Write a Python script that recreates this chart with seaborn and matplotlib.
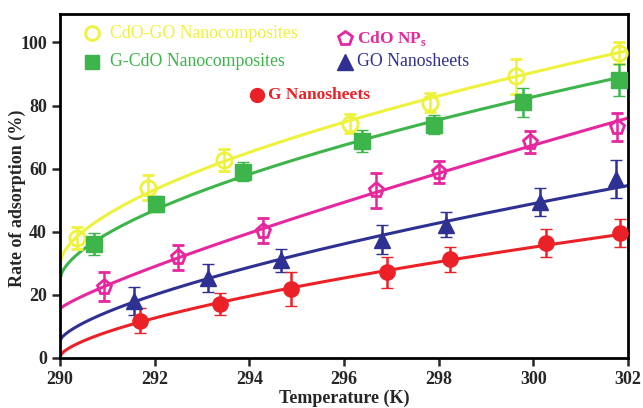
import numpy as np
import pandas as pd
import matplotlib
matplotlib.use("Agg")
import matplotlib.pyplot as plt
import seaborn as sns

# ---------------- data ----------------
series_names = ["CdO-GO Nanocomposites", "G-CdO Nanocomposites", "CdO NPs",
                "GO Nanosheets", "G Nanosheets"]

x_cdogo = [290.35, 291.85, 293.47, 296.12, 297.82, 299.63, 301.82]
y_cdogo = [38.0, 54.0, 62.8, 74.2, 80.9, 89.2, 96.7]
e_cdogo = [3.5, 4.0, 3.5, 3.0, 3.0, 5.5, 3.5]

x_gcdo = [290.72, 292.03, 293.86, 296.39, 297.90, 299.79, 301.81]
y_gcdo = [36.1, 48.9, 59.0, 68.8, 73.9, 81.0, 88.0]
e_gcdo = [3.5, 2.5, 3.0, 3.5, 3.0, 4.5, 5.0]

x_cdonp = [290.93, 292.49, 294.28, 296.67, 298.01, 299.93, 301.76]
y_cdonp = [22.6, 31.9, 40.3, 53.1, 59.0, 68.3, 73.2]
e_cdonp = [4.5, 4.0, 4.0, 5.5, 3.5, 3.5, 4.5]

x_go = [291.57, 293.12, 294.66, 296.81, 298.15, 300.14, 301.75]
y_go = [18.0, 25.4, 30.9, 37.5, 42.3, 49.4, 56.7]
e_go = [4.5, 4.5, 3.5, 4.5, 4.0, 4.5, 6.0]

x_g = [291.70, 293.37, 294.88, 296.90, 298.23, 300.26, 301.84]
y_g = [11.8, 17.0, 21.9, 27.1, 31.3, 36.4, 39.6]
e_g = [4.0, 3.5, 5.5, 5.0, 4.0, 4.5, 4.5]

# value of each fitted curve at T = 290 K
curve_start = [30.0, 25.0, 15.6, 5.5, 0.5]

x_ticks = [290, 292, 294, 296, 298, 300, 302]
y_ticks = [0, 20, 40, 60, 80, 100]

colors = ["#EEF23C", "#3DB54A", "#E6279E", "#2E3192", "#EC2127"]
markers = ["o", "s", "p", "^", "o"]
filled = [False, True, False, True, True]

xs = [x_cdogo, x_gcdo, x_cdonp, x_go, x_g]
ys = [y_cdogo, y_gcdo, y_cdonp, y_go, y_g]
es = [e_cdogo, e_gcdo, e_cdonp, e_go, e_g]

# ---------------- style ----------------
sns.set_style("ticks")
plt.rcParams["font.family"] = ["Liberation Serif", "DejaVu Serif"]
plt.rcParams["mathtext.fontset"] = "custom"
plt.rcParams["mathtext.rm"] = "Liberation Serif"
plt.rcParams["mathtext.bf"] = "Liberation Serif:bold"

fig = plt.figure(figsize=(6.43, 4.08), dpi=100)
ax = fig.add_axes([60 / 643, (408 - 358) / 408, 568 / 643, 344 / 408])

# fitted power-law curves y = y0 + b * (T-290)^p  (fit on the read points)
rows = []
grid = np.linspace(290, 302, 300)
for name, x, y, y0 in zip(series_names, xs, ys, curve_start):
    t = np.asarray(x) - 290
    p, lb = np.polyfit(np.log(t), np.log(np.asarray(y) - y0), 1)
    tg = grid - 290
    fit = y0 + np.exp(lb) * tg ** p
    for gx, gy in zip(grid, fit):
        rows.append({"series": name, "T": gx, "fit": gy})
fit_df = pd.DataFrame(rows)

sns.lineplot(data=fit_df, x="T", y="fit", hue="series", hue_order=series_names,
             palette=colors, linewidth=2.2, legend=False, ax=ax, sort=True,
             estimator=None)

for x, y, e, c, m, f in zip(xs, ys, es, colors, markers, filled):
    ax.errorbar(x, y, yerr=e, fmt=m, color=c, ecolor=c, elinewidth=1.8,
                capsize=4, capthick=1.8, markersize=11 if m != "^" else 12,
                markerfacecolor=c if f else "none", markeredgecolor=c,
                markeredgewidth=2.0 if not f else 1.0, zorder=3)

ax.set_xlim(290, 302)
ax.set_ylim(0, 109)
ax.set_xticks(x_ticks)
ax.set_yticks(y_ticks)
ax.tick_params(axis="both", direction="out", length=6, width=1.8,
               labelsize=13)
for lab in ax.get_xticklabels() + ax.get_yticklabels():
    lab.set_fontweight("bold")
for sp in ax.spines.values():
    sp.set_linewidth(2)
    sp.set_color("black")
ax.set_xlabel("Temperature (K)", fontsize=13, fontweight="bold", labelpad=1)
ax.set_ylabel("Rate of adsorption (%)", fontsize=13, fontweight="bold")
ax.yaxis.set_label_coords(-34 / 568, 0.465)

# in-plot legend entries
leg = [
    (0.056, 0.944, 0.088, "CdO-GO Nanocomposites", 0, "normal"),
    (0.056, 0.861, 0.088, "G-CdO Nanocomposites", 1, "normal"),
    (0.502, 0.929, 0.523, r"CdO NP$_\mathregular{s}$", 2, "bold"),
    (0.502, 0.861, 0.523, "GO Nanosheets", 3, "normal"),
    (0.346, 0.765, 0.366, "G Nanosheets", 4, "bold"),
]
for mx, my, tx, txt, i, w in leg:
    ax.plot([mx], [my], marker=markers[i], transform=ax.transAxes,
            markersize=10 if markers[i] != "^" else 12,
            color=colors[i], markerfacecolor=colors[i] if filled[i] else "none",
            markeredgewidth=2.0 if not filled[i] else 1.0, clip_on=False)
    ax.text(tx, my, txt, transform=ax.transAxes, color=colors[i],
            fontsize=12.8 if w == "normal" else 12.5, fontweight=w,
            va="center", ha="left")

fig.savefig("out.png", dpi=100)
